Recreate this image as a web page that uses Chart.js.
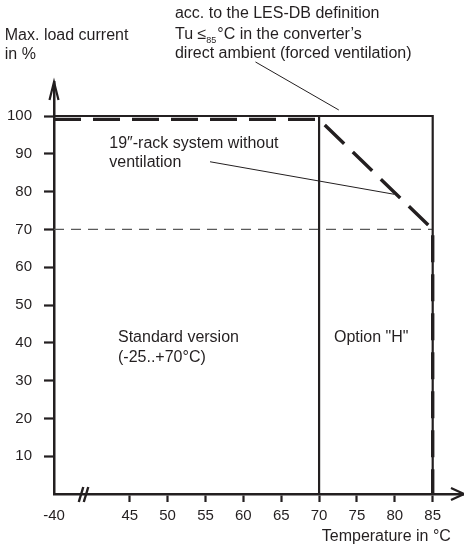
<!DOCTYPE html>
<html lang="en">
<head>
    <meta charset="UTF-8">
    <title>Max. load current vs. temperature</title>
    <script src="https://cdn.jsdelivr.net/npm/chart.js"></script>
    <style>
        html, body { margin: 0; padding: 0; background: #fff; }
        canvas { display: block; }
    </style>
</head>
<body>
    <canvas id="deratingChart" width="464" height="551"></canvas>

    <script>
        // axis ticks (the -40 label sits on a broken axis, drawn at position 35)
        const tempTicks = [35, 45, 50, 55, 60, 65, 70, 75, 80, 85];
        const tempTickLabels = ['-40', '45', '50', '55', '60', '65', '70', '75', '80', '85'];
        const loadTicks = [10, 20, 30, 40, 50, 60, 70, 80, 90, 100];

        // LES-DB definition (forced ventilation)
        const lesDbTemp = [35, 85, 85];
        const lesDbLoad = [100, 100, 0];

        // 19"-rack system without ventilation
        const rackTemp = [35, 70, 85, 85];
        const rackLoad = [99.1, 99.1, 70, 0];

        // limit of the standard version
        const standardTemp = [70, 70];
        const standardLoad = [0, 100];

        // 70 % reference line
        const refTemp = [35, 85];
        const refLoad = [70, 70];

        // leader lines of the notes
        const lesLeaderTemp = [61.6, 72.6];
        const lesLeaderLoad = [114.3, 101.6];
        const rackLeaderTemp = [55.6, 79.9];
        const rackLeaderLoad = [87.9, 79.3];

        const ink = '#231f20';
        const font = '"Liberation Sans", Arial, sans-serif';

        const pts = (xs, ys) => xs.map((x, i) => ({ x: x, y: ys[i] }));

        // notes placed in data units
        const notes = [
            { t: 'Max. load current', x: 28.5, y: 121.3 },
            { t: 'in %', x: 28.5, y: 116.3 },
            { t: 'acc. to the LES-DB definition', x: 50.97, y: 127.1 },
            { t: 'direct ambient (forced ventilation)', x: 50.97, y: 116.6 },
            { t: '19\u2033-rack system without', x: 42.3, y: 92.8 },
            { t: 'ventilation', x: 42.3, y: 87.7 },
            { t: 'Standard version', x: 43.45, y: 41.3 },
            { t: '(-25..+70\u00b0C)', x: 43.45, y: 36.2 },
            { t: 'Option "H"', x: 71.96, y: 41.3 },
            { t: 'Temperature in \u00b0C', x: 87.4, y: -11.4, align: 'right' }
        ];

        const decorations = {
            id: 'decorations',
            afterDraw(chart) {
                const ctx = chart.ctx;
                const xs = chart.scales.x, ys = chart.scales.y;
                const a = chart.chartArea;
                ctx.save();
                ctx.strokeStyle = ink;
                ctx.fillStyle = ink;
                ctx.lineWidth = 2.2;
                ctx.lineCap = 'butt';

                // axis arrows
                ctx.beginPath();
                ctx.moveTo(a.left - 4.5, a.top + 18);
                ctx.lineTo(a.left, a.top);
                ctx.lineTo(a.left + 4.5, a.top + 18);
                ctx.stroke();
                ctx.beginPath();
                ctx.moveTo(a.right - 12, a.bottom - 6);
                ctx.lineTo(a.right + 1, a.bottom);
                ctx.lineTo(a.right - 12, a.bottom + 6);
                ctx.stroke();

                // axis break
                const bx = xs.getPixelForValue(38.8);
                ctx.lineWidth = 2.4;
                [0, 5].forEach(d => {
                    ctx.beginPath();
                    ctx.moveTo(bx - 4 + d, a.bottom + 8);
                    ctx.lineTo(bx + 0.5 + d, a.bottom - 7);
                    ctx.stroke();
                });

                // notes
                ctx.font = '16px ' + font;
                ctx.textBaseline = 'middle';
                notes.forEach(n => {
                    ctx.textAlign = n.align || 'left';
                    ctx.fillText(n.t, xs.getPixelForValue(n.x), ys.getPixelForValue(n.y));
                });

                // Tu <=85 °C line with subscript
                ctx.textAlign = 'left';
                let px = xs.getPixelForValue(50.97);
                const py = ys.getPixelForValue(121.6);
                const head = 'Tu \u2264';
                ctx.fillText(head, px, py);
                px += ctx.measureText(head).width;
                ctx.font = '9px ' + font;
                ctx.fillText('85', px, py + 6);
                px += ctx.measureText('85').width + 1;
                ctx.font = '16px ' + font;
                ctx.fillText('\u00b0C in the converter\u2019s', px, py);
                ctx.restore();
            }
        };

        const line = (data, extra) => Object.assign({
            data: data,
            showLine: true,
            pointRadius: 0,
            borderColor: ink,
            borderWidth: 2.2,
            fill: false,
            clip: false
        }, extra);

        new Chart(document.getElementById('deratingChart'), {
            type: 'scatter',
            data: {
                datasets: [
                    line(pts(rackTemp, rackLoad), { label: 'rack', borderWidth: 3.4, borderDash: [27, 12], order: 0 }),
                    line(pts(lesDbTemp, lesDbLoad), { label: 'LES-DB', order: 1 }),
                    line(pts(standardTemp, standardLoad), { label: 'standard', order: 2 }),
                    line(pts(refTemp, refLoad), { label: 'ref', borderColor: '#5a5a5a', borderWidth: 1.3, borderDash: [10, 7], order: 3 }),
                    line(pts(lesLeaderTemp, lesLeaderLoad), { label: 'note1', borderWidth: 1, order: 4 }),
                    line(pts(rackLeaderTemp, rackLeaderLoad), { label: 'note2', borderWidth: 1, order: 5 })
                ]
            },
            options: {
                responsive: false,
                animation: false,
                layout: { padding: { top: 82, right: 1, left: 0, bottom: 0 } },
                plugins: { legend: { display: false }, tooltip: { enabled: false } },
                scales: {
                    x: {
                        type: 'linear',
                        min: 35,
                        max: 89,
                        afterBuildTicks: s => { s.ticks = tempTicks.map(v => ({ value: v })); },
                        afterFit: s => { s.height = 57; },
                        ticks: {
                            autoSkip: false,
                            maxRotation: 0,
                            padding: 5,
                            color: ink,
                            font: { family: font, size: 15 },
                            callback: (v, i) => tempTickLabels[i]
                        },
                        grid: {
                            drawOnChartArea: false,
                            drawTicks: true,
                            tickLength: 8,
                            tickWidth: 2.2,
                            tickColor: c => (c.tick && c.tick.value === 35) ? 'rgba(0,0,0,0)' : ink
                        },
                        border: { display: true, color: ink, width: 2.5 }
                    },
                    y: {
                        type: 'linear',
                        min: 0,
                        max: 109,
                        afterBuildTicks: s => { s.ticks = loadTicks.map(v => ({ value: v })); },
                        afterFit: s => { s.width = 54; },
                        ticks: {
                            padding: 12,
                            color: ink,
                            font: { family: font, size: 15 }
                        },
                        grid: {
                            drawOnChartArea: false,
                            drawTicks: true,
                            tickLength: 10,
                            tickWidth: 2.2,
                            tickColor: ink
                        },
                        border: { display: true, color: ink, width: 2.5 }
                    }
                }
            },
            plugins: [decorations]
        });
    </script>
</body>
</html>
